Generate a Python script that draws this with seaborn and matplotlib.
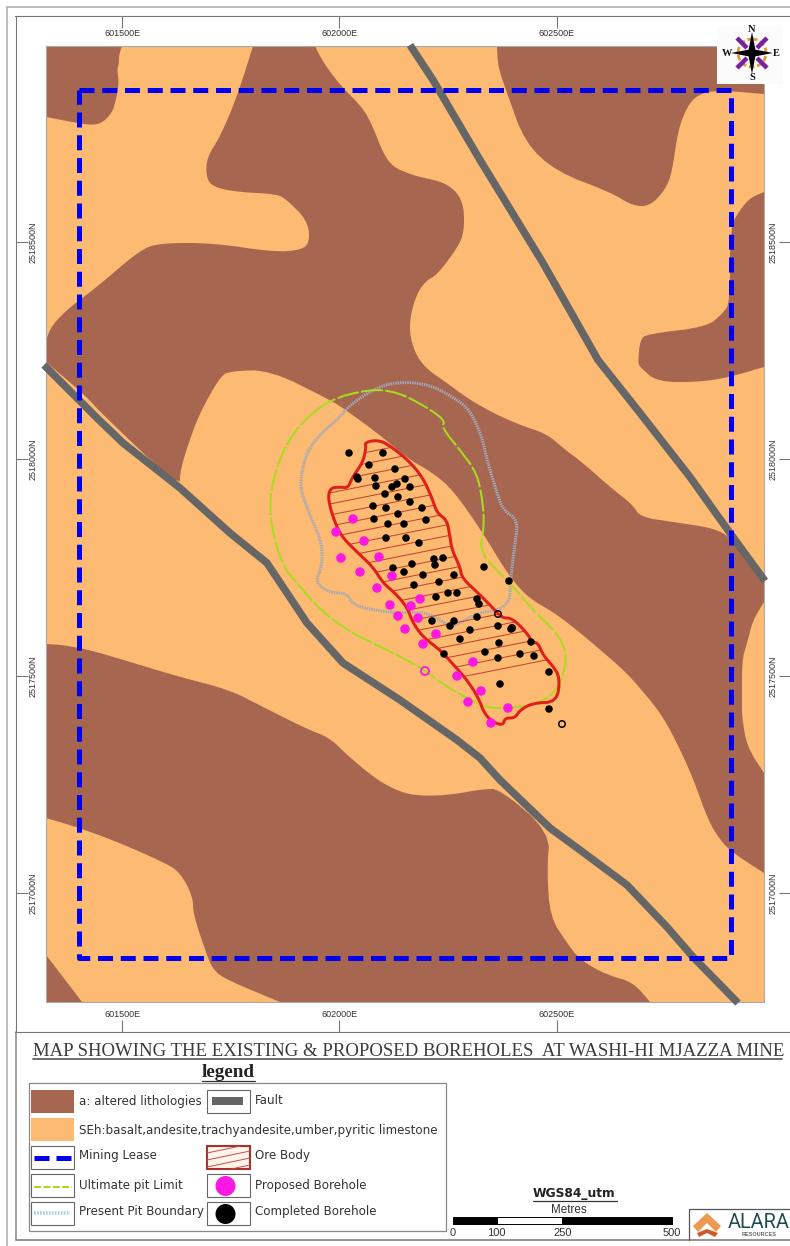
import matplotlib
matplotlib.use("Agg")
import matplotlib.pyplot as plt
import numpy as np
import pandas as pd
import seaborn as sns
from matplotlib.patches import Circle, Polygon, Rectangle

W, H = 790, 1246
PX = 72 / 100  # points per pixel at dpi 100

# Readings from the map sheet, as (sheet x, sheet y); to_east / to_north turn them into UTM
E_TICKS = [601500, 602000, 602500]
N_TICKS = [2517000, 2517500, 2518000, 2518500]
E_LABELS = ["601500E", "602000E", "602500E"]
N_LABELS = ["2517000N", "2517500N", "2518000N", "2518500N"]

ALTERED_NW = [(46, 46), (122, 46), (119, 55), (119, 63), (117, 70), (119, 83), (116, 100), (112, 113),
              (102, 123), (92, 125), (77, 123), (46, 117)]
ALTERED_CENTRE = [(253, 46), (315, 46), (323, 62), (340, 85), (363, 108), (373, 127), (383, 153), (393, 167),
                  (410, 174), (420, 177), (443, 182), (457, 192), (464, 207), (464, 232), (458, 247), (437, 275),
                  (427, 280), (417, 293), (410, 317), (410, 337), (417, 357), (428, 370), (447, 383), (467, 398),
                  (493, 413), (520, 425), (547, 434), (563, 448), (583, 463), (610, 487), (633, 505), (640, 517),
                  (673, 522), (713, 528), (730, 537), (747, 557), (764, 577), (764, 602), (753, 620), (747, 643),
                  (742, 660), (742, 700), (742, 717), (747, 747), (764, 773), (764, 873), (733, 853), (720, 840),
                  (708, 820), (693, 778), (677, 743), (663, 717), (650, 700), (627, 673), (597, 647), (573, 627),
                  (553, 612), (527, 597), (507, 573), (483, 533), (453, 490), (433, 473), (407, 458), (380, 435),
                  (343, 408), (330, 400), (270, 370), (230, 371), (220, 377), (203, 407), (193, 430), (180, 470),
                  (180, 488), (100, 412), (86, 396), (46, 362), (46, 340), (52, 325), (70, 307), (97, 287),
                  (140, 250), (160, 243), (213, 243), (273, 252), (303, 250), (310, 240), (307, 220), (287, 200),
                  (277, 194), (237, 192), (213, 187), (206, 177), (207, 157), (220, 137), (237, 97)]
ALTERED_NE = [(497, 46), (498, 67), (507, 93), (525, 143), (557, 172), (610, 192), (633, 206), (650, 206),
              (665, 190), (672, 173), (678, 130), (687, 107), (697, 95), (717, 90), (764, 94), (764, 46)]
ALTERED_E = [(764, 192), (750, 198), (740, 210), (730, 227), (730, 303), (723, 313), (707, 327), (647, 334),
             (640, 340), (638, 363), (640, 367), (657, 382), (700, 382), (730, 377), (764, 367)]
ALTERED_SW = [(46, 644), (63, 645), (90, 650), (130, 662), (180, 677), (230, 690), (263, 707), (307, 729),
              (330, 738), (347, 755), (377, 780), (400, 792), (420, 796), (450, 795), (483, 789), (500, 789),
              (550, 832), (547, 870), (550, 917), (567, 943), (580, 960), (607, 975), (633, 982), (650, 1002),
              (280, 1002), (227, 980), (213, 970), (205, 950), (193, 913), (193, 897), (180, 872), (163, 862),
              (120, 843), (80, 828), (46, 818)]
ALTERED_CORNER = [(46, 955), (63, 977), (82, 1002), (46, 1002)]

FAULT_NE = [(410, 45), (433, 80), (480, 160), (543, 263), (598, 360), (640, 413), (690, 477), (730, 533), (765, 581)]
FAULT_SW = [(44, 365), (97, 418), (123, 443), (180, 488), (230, 533), (267, 563), (307, 623), (343, 663),
            (400, 700), (457, 740), (480, 758), (500, 780), (550, 828), (580, 850), (627, 885), (667, 927),
            (693, 957), (738, 1003)]
MINING_LEASE = [(79, 90), (730.5, 90), (730.5, 958), (79, 958), (79, 90)]

PIT_LIMIT = [(328, 400), (370, 389), (397, 392), (423, 405), (445, 420), (442, 428), (460, 450), (477, 473),
             (483, 503), (484, 527), (480, 550), (493, 567), (510, 583), (533, 610), (557, 633), (567, 653),
             (563, 677), (553, 695), (533, 705), (510, 708), (487, 708), (467, 698), (447, 687), (427, 672),
             (407, 660), (377, 645), (350, 632), (320, 610), (297, 583), (283, 567), (271, 527), (270, 493),
             (280, 457), (297, 427)]
PIT_PRESENT = [(300, 483), (305, 457), (317, 437), (340, 417), (347, 408), (367, 393), (387, 384), (407, 382),
               (430, 385), (453, 397), (470, 410), (482, 437), (487, 460), (497, 493), (503, 510), (518, 520),
               (515, 543), (512, 567), (510, 587), (510, 600), (500, 610), (477, 613), (460, 623), (450, 627),
               (437, 618), (423, 612), (397, 613), (373, 610), (353, 605), (347, 593), (330, 593), (315, 582),
               (322, 567), (322, 543), (312, 520), (303, 497)]
ORE_BODY = [(365, 442), (380, 440), (393, 448), (410, 462), (423, 478), (432, 498), (437, 513), (447, 520),
            (450, 537), (452, 550), (460, 567), (462, 578), (477, 592), (493, 608), (502, 618), (512, 618),
            (527, 633), (532, 642), (538, 643), (543, 655), (552, 665), (560, 677), (557, 702), (533, 703),
            (520, 710), (515, 718), (505, 718), (503, 725), (495, 723), (485, 715), (478, 697), (467, 680),
            (452, 663), (440, 650), (423, 637), (413, 623), (407, 607), (395, 593), (383, 583), (373, 567),
            (357, 552), (342, 537), (335, 523), (328, 500), (330, 488), (340, 487), (348, 488), (352, 478),
            (363, 462), (366, 448)]

COMPLETED = [(349, 453), (383, 453), (369, 465), (395, 469), (357, 477), (358, 479), (375, 478), (405, 479),
             (397, 484), (392, 487), (376, 486), (410, 487), (385, 494), (398, 497), (410, 502), (373, 506),
             (386, 508), (422, 508), (398, 514), (374, 519), (426, 520), (388, 524), (404, 524), (386, 538),
             (406, 538), (419, 543), (434, 559), (443, 558), (435, 565), (412, 564), (393, 568), (404, 572),
             (423, 575), (454, 575), (439, 582), (414, 585), (484, 567), (509, 581), (448, 593), (457, 593),
             (436, 597), (477, 599), (479, 604), (477, 617), (454, 621), (432, 621), (450, 626), (498, 626),
             (511, 629), (470, 630), (460, 639), (499, 643), (531, 642), (485, 652), (444, 654), (520, 654),
             (534, 656), (498, 658), (549, 672), (500, 684), (549, 709)]
COMPLETED_OPEN = [(498, 614), (512, 628), (562, 724)]
PROPOSED = [(353, 519), (336, 532), (364, 541), (341, 558), (379, 557), (360, 572), (392, 576), (377, 588),
            (420, 599), (390, 605), (411, 606), (398, 616), (418, 618), (405, 629), (436, 634), (423, 644),
            (473, 662), (457, 676), (481, 691), (468, 702), (508, 708), (491, 723)]
PROPOSED_OPEN = [(425, 671)]

LEGEND_LEFT = ["a: altered lithologies", "SEh:basalt,andesite,trachyandesite,umber,pyritic limestone",
               "Mining Lease", "Ultimate pit Limit", "Present Pit Boundary"]
LEGEND_RIGHT = ["Fault", "Ore Body", "Proposed Borehole", "Completed Borehole"]
SCALE_METRES = [0, 100, 250, 500]

BROWN = "#a66650"
ORANGE = "#fdba72"
GREY = "#666666"
BLUE = "#0000ee"
GREEN = "#a8dc20"
PITGREY = "#a4a8b8"
RED = "#e01f1a"
HATCH = "#c2412f"
MAGENTA = "#fa18e4"
TEXT = "#333333"


def to_east(x):
    return 601500 + (np.asarray(x, dtype=float) - 122.3) * 500 / 217.2


def to_north(y):
    return 2518000 - (np.asarray(y, dtype=float) - 459.0) * 500 / 217.1


def rounded(points, passes=2):
    # corner cutting for closed outlines, vertices on the map edge stay put
    pts = [tuple(p) for p in points]
    for _ in range(passes):
        out = []
        for i, p in enumerate(pts):
            if p[0] <= 46 or p[0] >= 763.5 or p[1] <= 46 or p[1] >= 1002:
                out.append(p)
                continue
            prev, nxt = pts[i - 1], pts[(i + 1) % len(pts)]
            out.append((p[0] + 0.25 * (prev[0] - p[0]), p[1] + 0.25 * (prev[1] - p[1])))
            out.append((p[0] + 0.25 * (nxt[0] - p[0]), p[1] + 0.25 * (nxt[1] - p[1])))
        pts = out
    return pts


def utm_frame(points):
    pts = np.array(points, dtype=float)
    return pd.DataFrame({"east": to_east(pts[:, 0]), "north": to_north(pts[:, 1])})


def sheet_axes(fig, x0, y0, x1, y1):
    ax = fig.add_axes([x0 / W, 1 - y1 / H, (x1 - x0) / W, (y1 - y0) / H])
    ax.set_xlim(to_east(x0), to_east(x1))
    ax.set_ylim(to_north(y1), to_north(y0))
    return ax


def draw_line(ax, points, **kws):
    sns.lineplot(data=utm_frame(points), x="east", y="north", sort=False, estimator=None,
                 legend=False, ax=ax, **kws)


def closed(points):
    pts = rounded(points)
    return pts + pts[:1]


sns.set_theme(style="white")
plt.rcParams["font.family"] = ["Liberation Sans", "DejaVu Sans"]

fig = plt.figure(figsize=(W / 100, H / 100), dpi=100, facecolor="white")

# grid frame with the coordinate ticks
frame = sheet_axes(fig, 15.5, 16, 791, 1032)
frame.set_facecolor("none")
frame.set_xticks(E_TICKS, E_LABELS)
frame.set_yticks(N_TICKS, N_LABELS)
frame.tick_params(axis="x", which="major", direction="in", length=12 * PX, width=0.8, color="#777777",
                  labelsize=6.5, labelcolor=TEXT, top=True, bottom=True, labeltop=True, labelbottom=True,
                  pad=-15.8)
frame.tick_params(axis="y", which="major", direction="in", length=12 * PX, width=0.8, color="#777777",
                  labelsize=6.5, labelcolor=TEXT, left=True, right=True, labelleft=True, labelright=True,
                  pad=-16, labelrotation=90)
for label in frame.get_yticklabels():
    label.set_va("center")
for spine in frame.spines.values():
    spine.set_color("#777777")
    spine.set_linewidth(0.8)

# map
ax = sheet_axes(fig, 46, 46, 763.5, 1002)
ax.set_facecolor(ORANGE)
for spine in ax.spines.values():
    spine.set_color("#aaaaaa")
    spine.set_linewidth(0.8)
    spine.set_zorder(1.5)

for poly in [ALTERED_NW, ALTERED_CENTRE, ALTERED_NE, ALTERED_E, ALTERED_SW, ALTERED_CORNER]:
    df = utm_frame(rounded(poly))
    ax.fill(df["east"], df["north"], color=BROWN, lw=0, zorder=1)

for fault in [FAULT_NE, FAULT_SW]:
    draw_line(ax, fault, color=GREY, linewidth=7.5 * PX, clip_on=False, zorder=2,
              solid_capstyle="butt", solid_joinstyle="round")
draw_line(ax, MINING_LEASE, color=BLUE, linewidth=5 * PX, linestyle=(0, (3.0, 1.55)), zorder=2.5,
          dash_capstyle="butt")
draw_line(ax, closed(PIT_PRESENT), color=PITGREY, linewidth=3 * PX, linestyle=(0, (0.5, 0.3)), zorder=3)
draw_line(ax, closed(PIT_LIMIT), color=GREEN, linewidth=2 * PX, linestyle=(0, (11, 1.2)), zorder=3.2)

ore_df = utm_frame(rounded(ORE_BODY))
ore_patch = Polygon(ore_df.values, closed=True, fill=False, edgecolor=RED, linewidth=3 * PX, zorder=4,
                    joinstyle="round")
ax.add_patch(ore_patch)
# hatch of the ore body, slightly tilted
east_span = np.array(ax.get_xlim())
for start in np.arange(to_north(760), to_north(380), 25.5):
    line, = ax.plot(east_span, start + 0.2 * (east_span - east_span[0]), color=HATCH, lw=1.0 * PX, zorder=3.6)
    line.set_clip_path(ore_patch)

for points, size, face, edge, lw in [
    (COMPLETED, 7.5, "black", "none", 0),
    (COMPLETED_OPEN, 6.5, "none", "black", 1.5),
    (PROPOSED, 9.5, MAGENTA, "none", 0),
    (PROPOSED_OPEN, 8, "none", MAGENTA, 1.8),
]:
    sns.scatterplot(data=utm_frame(points), x="east", y="north", s=(size * PX) ** 2, facecolor=face,
                    edgecolor=edge, linewidth=lw * PX, legend=False, ax=ax, zorder=5)

ax.set_xlim(to_east(46), to_east(763.5))
ax.set_ylim(to_north(1002), to_north(46))
ax.set(xticks=[], yticks=[], xlabel="", ylabel="")
frame.set(xlabel="", ylabel="")

# everything around the map sits on a sheet-sized overlay
sheet = fig.add_axes([0, 0, 1, 1], zorder=10)
sheet.set_xlim(0, W)
sheet.set_ylim(H, 0)
sheet.axis("off")
sheet.patch.set_alpha(0)

for xs, ys, col in [([7, 7], [7, H], "#aaaaaa"), ([7, W], [7, 7], "#aaaaaa"),
                    ([15.5, 15.5], [1032, 1240], "#888888"), ([15.5, W], [1240, 1240], "#777777")]:
    sheet.plot(xs, ys, color=col, lw=1.1)

# title and legend heading
sheet.text(33, 1056, "MAP SHOWING THE EXISTING & PROPOSED BOREHOLES  AT WASHI-HI MJAZZA MINE",
           family="Liberation Serif", fontsize=13.5, color="#3c3c3c", ha="left", va="baseline")
sheet.plot([33, 782], [1059, 1059], color="#555555", lw=1.2)
sheet.text(228.5, 1077, "legend", family="Liberation Serif", fontsize=13.8, weight="bold",
           color="#222222", ha="center", va="baseline")
sheet.plot([202, 255], [1081, 1081], color="#333333", lw=0.9)

# legend box
sheet.add_patch(Rectangle((29, 1083), 417, 148, fc="white", ec="#888888", lw=0.9))
ROW_TOPS = [1090, 1118, 1146, 1174, 1202]
SW_H = 23
SW_W = 43
COL_X = [31, 207]
sheet.add_patch(Rectangle((COL_X[0], ROW_TOPS[0]), SW_W, SW_H, fc=BROWN, ec="none"))
sheet.add_patch(Rectangle((COL_X[0], ROW_TOPS[1]), SW_W, SW_H, fc=ORANGE, ec="none"))
for row in [2, 3, 4]:
    sheet.add_patch(Rectangle((COL_X[0], ROW_TOPS[row]), SW_W, SW_H, fc="white", ec="#666666", lw=0.8))
for row in [0, 3, 4]:
    sheet.add_patch(Rectangle((COL_X[1], ROW_TOPS[row]), SW_W, SW_H, fc="white", ec="#666666", lw=0.8))
sheet.add_patch(Rectangle((212, 1097), 31, 8, fc=GREY, ec="none"))
sheet.plot([34, 49], [1158, 1158], color=BLUE, lw=5 * PX, solid_capstyle="butt")
sheet.plot([56, 71], [1158, 1158], color=BLUE, lw=5 * PX, solid_capstyle="butt")
sheet.plot([34, 72], [1187, 1187], color=GREEN, lw=2 * PX, linestyle=(0, (3.5, 1.2)))
sheet.plot([34, 70], [1213, 1213], color="#a9d2e0", lw=3.5 * PX, linestyle=(0, (0.5, 0.35)))
ore_box = Rectangle((COL_X[1], ROW_TOPS[2]), SW_W, SW_H, fc="#fff4ea", ec="#a83030", lw=1.5)
sheet.add_patch(ore_box)
for y0 in [1153, 1160, 1167, 1174]:
    hatch_line, = sheet.plot([COL_X[1], COL_X[1] + SW_W], [y0, y0 - 9], color="#c05050", lw=0.7)
    hatch_line.set_clip_path(ore_box)
sheet.add_patch(Circle((225.5, 1186), 10, fc=MAGENTA, ec="none", zorder=3))
sheet.add_patch(Circle((225.5, 1214), 10, fc="black", ec="none", zorder=3))

LEFT_ROWS = [1102, 1130.5, 1156, 1185, 1212]
RIGHT_ROWS = [1101, 1156, 1185, 1212]
for label, y in zip(LEGEND_LEFT, LEFT_ROWS):
    sheet.text(79, y, label, family="DejaVu Sans", fontsize=8.6, color=TEXT, va="center", ha="left")
for label, y in zip(LEGEND_RIGHT, RIGHT_ROWS):
    sheet.text(255, y, label, family="DejaVu Sans", fontsize=8.6, color=TEXT, va="center", ha="left")

# scale bar
bar_x = 453 + np.array(SCALE_METRES) * 0.4375
for i in range(len(SCALE_METRES) - 1):
    fc = "white" if i == 1 else "black"
    sheet.add_patch(Rectangle((bar_x[i], 1217), bar_x[i + 1] - bar_x[i], 6.5, fc=fc, ec="black", lw=0.7))
for value, x in zip(SCALE_METRES, bar_x):
    sheet.text(x, 1232.5, str(value), fontsize=8, color=TEXT, ha="center", va="center")
sheet.text(569, 1210, "Metres", fontsize=8.4, color=TEXT, ha="center", va="center")
sheet.text(574, 1194, "WGS84_utm", family="DejaVu Sans", fontsize=8.8, weight="bold", color="#222222",
           ha="center", va="center")
sheet.plot([533, 617], [1201, 1201], color="#333333", lw=0.9)

# company logo
sheet.plot([689, 689, W], [1240, 1209, 1209], color="#555555", lw=0.9)
sheet.add_patch(Polygon([(707, 1213), (721, 1226), (716, 1232), (707, 1223), (698, 1232), (693, 1226)],
                        fc="#ec9a52", ec="none"))
sheet.add_patch(Polygon([(697, 1233), (707, 1229), (718, 1233), (715, 1237), (707, 1233), (699, 1237)],
                        fc="#d0582a", ec="none"))
sheet.text(728, 1222, "ALARA", family="Roboto", fontsize=14.3, color="#1f4a50", ha="left", va="center")
sheet.text(759.5, 1234, "RESOURCES", fontsize=4, weight="bold", color="#666666", ha="center", va="center")

# north arrow
sheet.add_patch(Rectangle((717, 27), 66, 57, fc="#fbfbfb", ec="none", zorder=2))
cx, cy = 752, 53
sheet.add_patch(Circle((cx, cy), 14, fc="none", ec="#e09a40", lw=2, linestyle=(0, (2, 1)), zorder=3))
for dx, dy in [(1, 1), (1, -1), (-1, 1), (-1, -1)]:
    sheet.plot([cx + 5 * dx, cx + 15 * dx], [cy + 5 * dy, cy + 15 * dy], color="#7a1fa0", lw=3.2, zorder=4,
               solid_capstyle="butt")
    sheet.add_patch(Polygon([(cx + 2.5 * dy, cy + 2.5 * dx), (cx + 9 * dx, cy + 9 * dy),
                             (cx - 2.5 * dy, cy - 2.5 * dx)], fc="black", ec="none", zorder=5))
for dx, dy in [(0, 1), (0, -1), (1, 0), (-1, 0)]:
    sheet.add_patch(Polygon([(cx + 4 * dy, cy + 4 * dx), (cx + 21 * dx, cy + 21 * dy),
                             (cx - 4 * dy, cy - 4 * dx)], fc="black", ec="none", zorder=5))
for letter, lx, ly in [("N", 752, 29), ("S", 752, 78), ("E", 776, 54), ("W", 727, 54)]:
    sheet.text(lx, ly, letter, family="Liberation Serif", fontsize=7.5, weight="bold", color="#111111",
               ha="center", va="center", zorder=6)

fig.savefig("out.png", dpi=100, facecolor="white")
